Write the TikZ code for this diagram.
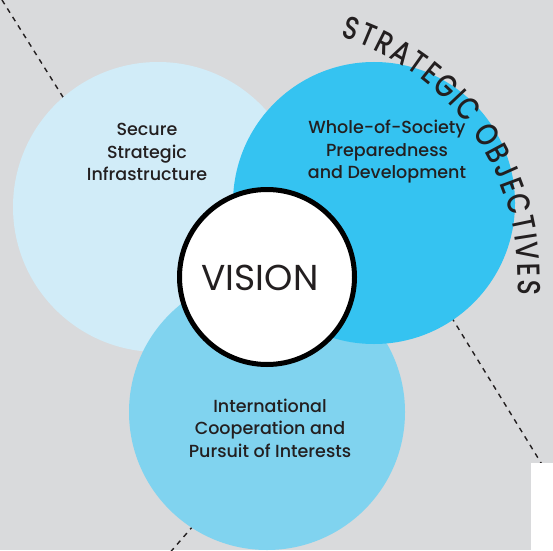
\documentclass[tikz,border=0pt]{standalone}
\usepackage{fontspec}
\setmainfont{Poppins}
\newfontfamily\labelfont{Poppins Medium}
\newfontfamily\arcfont{Poppins Medium}[FakeStretch=0.8]
\usetikzlibrary{decorations.text, calc}

\definecolor{paper}{RGB}{217,218,220}
\definecolor{inkdark}{RGB}{35,31,32}
\definecolor{skypale}{RGB}{209,236,248}
\definecolor{skybright}{RGB}{53,195,241}
\definecolor{skymid}{RGB}{128,211,239}

\begin{document}
\begin{tikzpicture}[x=1pt, y=1pt,
    Objective/.style={circle, inner sep=0pt, minimum size=#1},
    Vision/.style={draw=black, line width=5pt, fill=white, circle, inner sep=0pt, minimum size=175pt},
    ObjLabel/.style={align=center, text=inkdark, font=\labelfont\fontsize{17.5}{22.5}\selectfont},
    Divider/.style={draw=inkdark, line width=1.4pt, dash pattern=on 5pt off 5pt}
    ]

    % backdrop
    \fill[paper] (0,0) rectangle (553,550);
    \useasboundingbox (0,0) rectangle (553,550);

    % dashed dividers, ends tucked under the circles
    \coordinate (d1a) at (2,550);
    \coordinate (d1b) at (100,394);
    \coordinate (d2a) at (420,284);
    \coordinate (d2b) at (546,79);
    \coordinate (d3a) at (200,32);
    \coordinate (d3b) at (167,-6);
    \draw[Divider] (d1a) -- (d1b);
    \draw[Divider] (d2a) -- (d2b);
    \draw[Divider] (d3a) -- (d3b);

    % objective circles
    \node[Objective=290pt, fill=skypale]   (SSI) at (158,343) {};
    \node[Objective=276pt, fill=skymid]    (ICP) at (267,138) {};
    \node[Objective=282pt, fill=skybright] (WSP) at (374,347) {};

    % vision in the middle
    \node[Vision] (VIS) at (267,273) {};
    \node[text=inkdark, font=\fontsize{36}{36}\selectfont] (VIStext) at (260,272) {VISION};

    % labels
    \node[ObjLabel] (SSItext) at (147,398) {Secure\\Strategic\\Infrastructure};
    \node[ObjLabel] (WSPtext) at (387,398) {Whole-of-Society\\Preparedness\\and Development};
    \node[ObjLabel] (ICPtext) at (270,122) {International\\Cooperation and\\Pursuit of Interests};

    % arc heading round the vision
    \path[postaction={decorate}, decoration={text along path, text align={fit to path},
        text={|\arcfont\fontsize{32}{32}\selectfont\color{inkdark}|STRATEGIC OBJECTIVES}}]
        ($(VIS)+(73:251)$) arc[start angle=73, end angle=-4, radius=251];

    % corner patch
    \fill[white] (531,0) rectangle (553,87);
\end{tikzpicture}
\end{document}
